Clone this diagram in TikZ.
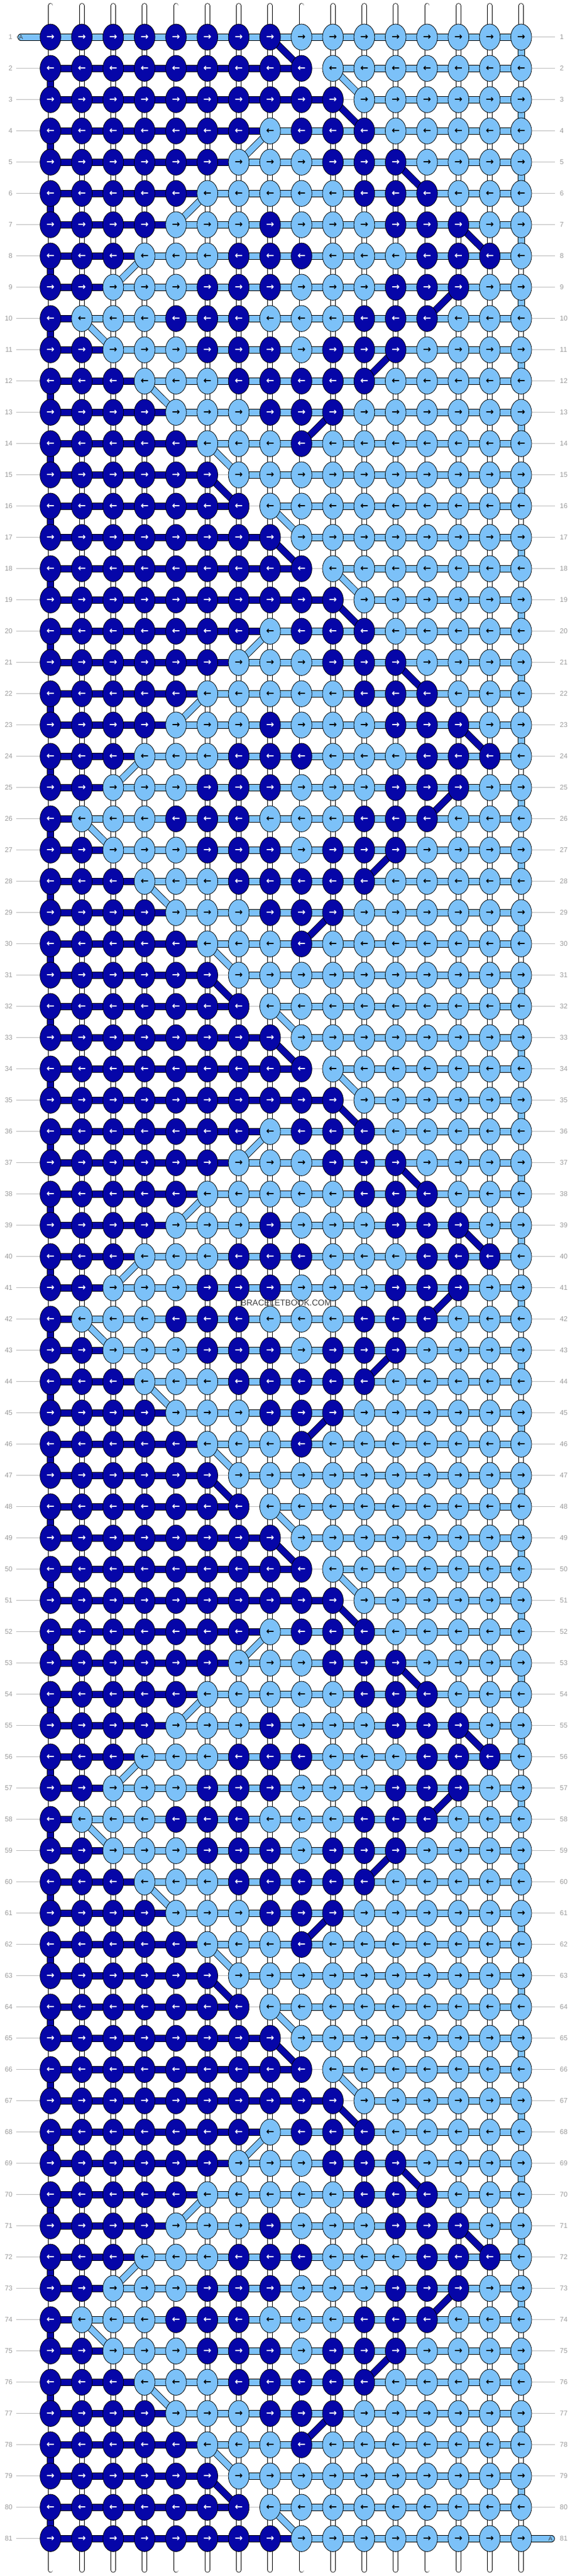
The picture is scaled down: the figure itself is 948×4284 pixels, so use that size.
\documentclass[tikz,border=0pt]{standalone}
\usepackage{fontspec}
\setmainfont{Liberation Sans}
\newfontfamily\arrowfont{DejaVu Sans}
\usetikzlibrary{shapes.geometric,backgrounds}

\definecolor{KnotDark}{HTML}{0606A8}
\definecolor{KnotLight}{HTML}{7CC1F8}
\definecolor{NumberGray}{HTML}{9C9C9C}
\definecolor{LineGray}{HTML}{BABABA}
\definecolor{EndGray}{HTML}{404040}

\tikzstyle{knot}=[ellipse, draw=black, line width=0.8pt, inner sep=0pt, minimum width=34.6pt, minimum height=43.4pt, font={\arrowfont\bfseries\fontsize{16}{16}\selectfont}]
\tikzstyle{row-number}=[inner sep=0pt, text=NumberGray, font={\fontsize{11.5}{11.5}\selectfont}]
\tikzstyle{row-line}=[draw=LineGray, line width=0.9pt, shorten <=6pt, shorten >=8pt]
\tikzstyle{thread}=[draw=black, line width=0.8pt, double=white, double distance=7pt, line cap=round]
\tikzstyle{bar-dark}=[draw=black, line width=0.8pt, double=KnotDark, double distance=10pt]
\tikzstyle{bar-light}=[draw=black, line width=0.8pt, double=KnotLight, double distance=10pt]
\tikzstyle{string-end}=[inner sep=0pt, text=EndGray, font={\fontsize{10}{10}\selectfont}]

% one repeat of the chart: knot colours (1 = dark) / first light knot / last dark knot / where the jump lands
\def\knotrows{%
1/{1,1,1,1,1,1,1,1,0,0,0,0,0,0,0,0}/9/8/9,
2/{1,1,1,1,1,1,1,1,1,0,0,0,0,0,0,0}/10/9/11,
3/{1,1,1,1,1,1,1,1,1,1,0,0,0,0,0,0}/11/10/11,
4/{1,1,1,1,1,1,1,0,1,1,1,0,0,0,0,0}/8/11/7,
5/{1,1,1,1,1,1,0,0,0,1,1,1,0,0,0,0}/7/12/13,
6/{1,1,1,1,1,0,0,0,0,0,1,1,1,0,0,0}/6/13/5,
7/{1,1,1,1,0,0,0,1,0,0,0,1,1,1,0,0}/5/14/15,
8/{1,1,1,0,0,0,1,1,1,0,0,0,1,1,1,0}/4/15/3,
9/{1,1,0,0,0,1,1,1,0,0,0,1,1,1,0,0}/3/14/13,
10/{1,0,0,0,1,1,1,0,0,0,1,1,1,0,0,0}/2/13/3,
11/{1,1,0,0,0,1,1,1,0,1,1,1,0,0,0,0}/3/12/11,
12/{1,1,1,0,0,0,1,1,1,1,1,0,0,0,0,0}/4/11/5,
13/{1,1,1,1,0,0,0,1,1,1,0,0,0,0,0,0}/5/10/9,
14/{1,1,1,1,1,0,0,0,1,0,0,0,0,0,0,0}/6/9/7,
15/{1,1,1,1,1,1,0,0,0,0,0,0,0,0,0,0}/7/6/7,
16/{1,1,1,1,1,1,1,0,0,0,0,0,0,0,0,0}/8/7/9}

\begin{document}
\begin{tikzpicture}[x=1pt, y=-1pt]
  \useasboundingbox (0,0) rectangle (948,4284);

  % knots and row numbers
  \foreach \base in {0,16,...,80} {
    \foreach \idx/\colours/\lightfrom/\darkto/\jump in \knotrows {
      \pgfmathtruncatemacro{\rownum}{\base+\idx}
      \ifnum\rownum<82
        \pgfmathsetmacro{\ypos}{61.7+(\rownum-1)*52}
        \node (row-\rownum-left) at (21, \ypos) [row-number, anchor=east] {\rownum};
        \node (row-\rownum-right) at (932, \ypos) [row-number, anchor=west] {\rownum};
        \foreach \kind [count=\col] in \colours {
          \ifnum\kind=1 \def\kfill{KnotDark}\def\ktext{white}\else\def\kfill{KnotLight}\def\ktext{black}\fi
          \node (knot-\rownum-\col) at ({84+(\col-1)*52.25}, \ypos) [knot, fill=\kfill, text=\ktext] {\ifodd\rownum\relax →\else ←\fi};
        }
      \fi
    }
  }

  \node (string-A-first) at (35, 61.7) [string-end] {A};
  \node (string-A-last) at (916.5, 4221.7) [string-end] {A};
  \node (watermark) at (476.5, 2167) [inner sep=0pt, text=EndGray, font={\fontsize{14}{14}\selectfont}] {BRACELETBOOK.COM};

  \begin{scope}[on background layer]
    \fill[white] (0,0) rectangle (948,4284);
    \foreach \rownum in {1,...,81}
      \draw[row-line] (row-\rownum-left) -- (row-\rownum-right);

    % the white base threads
    \foreach \col in {1,...,16} {
      \coordinate (thread-\col-top) at ({84+(\col-1)*52.25}, 9.5);
      \coordinate (thread-\col-bottom) at ({84+(\col-1)*52.25}, 4274);
      \draw[thread] (thread-\col-top) -- (knot-1-\col.center) -- (knot-81-\col.center) -- (thread-\col-bottom);
    }

    % the working strings A (light) and B (dark)
    \coordinate (string-A-in) at (35, 61.7);
    \coordinate (string-A-out) at (918, 4221.7);
    \draw[bar-light, line cap=round] (string-A-in) -- (knot-1-1.center);
    \draw[bar-light, line cap=round] (knot-81-16.center) -- (string-A-out);

    \foreach \base in {0,16,...,80} {
      \foreach \idx/\colours/\lightfrom/\darkto/\jump in \knotrows {
        \pgfmathtruncatemacro{\rownum}{\base+\idx}
        \ifnum\rownum<82
          \pgfmathtruncatemacro{\lstart}{\rownum==1 ? 1 : \lightfrom}
          \pgfmathtruncatemacro{\dend}{\rownum==81 ? 9 : \darkto}
          \foreach \col in {1,...,15} {
            \pgfmathtruncatemacro{\nextcol}{\col+1}
            \ifnum\col<\lstart\relax
              \ifnum\nextcol>\dend\relax\else
                \draw[bar-dark] (knot-\rownum-\col.center) -- (knot-\rownum-\nextcol.center);
              \fi
            \else
              \draw[bar-light] (knot-\rownum-\col.center) -- (knot-\rownum-\nextcol.center);
            \fi
          }
          \ifnum\rownum<81
            \pgfmathtruncatemacro{\below}{\rownum+1}
            \ifodd\rownum\relax
              \draw[bar-dark] (knot-\rownum-\darkto.center) -- (knot-\below-\jump.center);
              \draw[bar-light] (knot-\rownum-16.center) -- (knot-\below-16.center);
            \else
              \draw[bar-light] (knot-\rownum-\lightfrom.center) -- (knot-\below-\jump.center);
              \draw[bar-dark] (knot-\rownum-1.center) -- (knot-\below-1.center);
            \fi
          \fi
        \fi
      }
    }
  \end{scope}
\end{tikzpicture}
\end{document}
